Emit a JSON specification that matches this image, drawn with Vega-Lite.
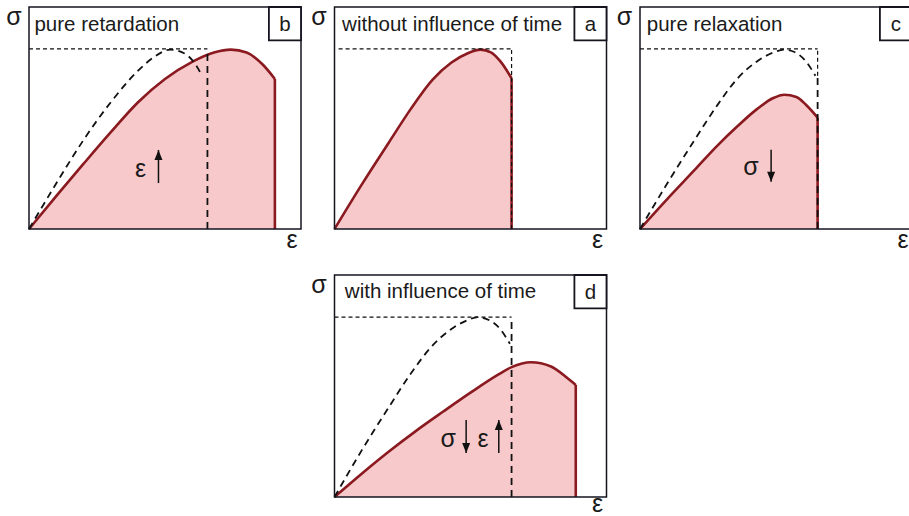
{
  "$schema": "https://vega.github.io/schema/vega-lite/v6.json",
  "padding": {"left": 6, "top": 4, "right": 0, "bottom": 0},
  "datasets": {
    "rows": [
      {"panel": "b", "kind": "curve", "x": 0, "y": 0},
      {"panel": "b", "kind": "curve", "x": 0.1, "y": 0.148},
      {"panel": "b", "kind": "curve", "x": 0.2, "y": 0.293},
      {"panel": "b", "kind": "curve", "x": 0.3, "y": 0.435},
      {"panel": "b", "kind": "curve", "x": 0.4, "y": 0.57},
      {"panel": "b", "kind": "curve", "x": 0.5, "y": 0.676},
      {"panel": "b", "kind": "curve", "x": 0.6, "y": 0.753},
      {"panel": "b", "kind": "curve", "x": 0.68, "y": 0.795},
      {"panel": "b", "kind": "curve", "x": 0.742, "y": 0.808},
      {"panel": "b", "kind": "curve", "x": 0.8, "y": 0.795},
      {"panel": "b", "kind": "curve", "x": 0.86, "y": 0.74},
      {"panel": "b", "kind": "curve", "x": 0.904, "y": 0.676},
      {"panel": "b", "kind": "ref", "x": 0, "y": 0},
      {"panel": "b", "kind": "ref", "x": 0.1, "y": 0.205},
      {"panel": "b", "kind": "ref", "x": 0.2, "y": 0.4},
      {"panel": "b", "kind": "ref", "x": 0.3, "y": 0.57},
      {"panel": "b", "kind": "ref", "x": 0.4, "y": 0.712},
      {"panel": "b", "kind": "ref", "x": 0.46, "y": 0.775},
      {"panel": "b", "kind": "ref", "x": 0.52, "y": 0.808},
      {"panel": "b", "kind": "ref", "x": 0.57, "y": 0.792},
      {"panel": "b", "kind": "ref", "x": 0.61, "y": 0.745},
      {"panel": "b", "kind": "ref", "x": 0.632, "y": 0.7},
      {"panel": "b", "kind": "fine", "x": 0, "x2": 0.656, "y": 0.811, "y2": 0.811},
      {"panel": "b", "kind": "bold", "x": 0.656, "x2": 0.656, "y": 0, "y2": 0.805},
      {"panel": "b", "kind": "drop", "x": 0.904, "x2": 0.904, "y": 0, "y2": 0.676},
      {"panel": "b", "kind": "frame", "x": 0, "x2": 1, "y": 0, "y2": 1},
      {"panel": "b", "kind": "tagbox", "x": 0.882, "x2": 1, "y": 0.85, "y2": 1},
      {"panel": "b", "kind": "title", "x": 0.02, "y": 0.89, "text": "pure retardation"},
      {"panel": "b", "kind": "tag", "x": 0.941, "y": 0.89, "text": "b"},
      {"panel": "b", "kind": "axis", "x": -0.055, "y": 0.919, "text": "σ"},
      {"panel": "b", "kind": "axis", "x": 0.967, "y": -0.086, "text": "ε"},
      {"panel": "b", "kind": "note", "x": 0.41, "y": 0.234, "text": "ε"},
      {"panel": "b", "kind": "arrowup", "x": 0.476, "y": 0.207, "y2": 0.356},

      {"panel": "a", "kind": "curve", "x": 0, "y": 0},
      {"panel": "a", "kind": "curve", "x": 0.1, "y": 0.2},
      {"panel": "a", "kind": "curve", "x": 0.2, "y": 0.39},
      {"panel": "a", "kind": "curve", "x": 0.28, "y": 0.54},
      {"panel": "a", "kind": "curve", "x": 0.36, "y": 0.672},
      {"panel": "a", "kind": "curve", "x": 0.43, "y": 0.75},
      {"panel": "a", "kind": "curve", "x": 0.49, "y": 0.792},
      {"panel": "a", "kind": "curve", "x": 0.537, "y": 0.808},
      {"panel": "a", "kind": "curve", "x": 0.575, "y": 0.796},
      {"panel": "a", "kind": "curve", "x": 0.61, "y": 0.755},
      {"panel": "a", "kind": "curve", "x": 0.651, "y": 0.679},
      {"panel": "a", "kind": "drop", "x": 0.651, "x2": 0.651, "y": 0, "y2": 0.679},
      {"panel": "a", "kind": "fine", "x": 0.015, "x2": 0.651, "y": 0.811, "y2": 0.811},
      {"panel": "a", "kind": "fine", "x": 0.651, "x2": 0.651, "y": 0, "y2": 0.811},
      {"panel": "a", "kind": "frame", "x": 0, "x2": 1, "y": 0, "y2": 1},
      {"panel": "a", "kind": "tagbox", "x": 0.882, "x2": 1, "y": 0.85, "y2": 1},
      {"panel": "a", "kind": "title", "x": 0.028, "y": 0.89, "text": "without influence of time"},
      {"panel": "a", "kind": "tag", "x": 0.941, "y": 0.89, "text": "a"},
      {"panel": "a", "kind": "axis", "x": -0.057, "y": 0.919, "text": "σ"},
      {"panel": "a", "kind": "axis", "x": 0.967, "y": -0.086, "text": "ε"},

      {"panel": "c", "kind": "ref", "x": 0, "y": 0},
      {"panel": "c", "kind": "ref", "x": 0.1, "y": 0.205},
      {"panel": "c", "kind": "ref", "x": 0.2, "y": 0.4},
      {"panel": "c", "kind": "ref", "x": 0.28, "y": 0.55},
      {"panel": "c", "kind": "ref", "x": 0.36, "y": 0.68},
      {"panel": "c", "kind": "ref", "x": 0.43, "y": 0.755},
      {"panel": "c", "kind": "ref", "x": 0.49, "y": 0.795},
      {"panel": "c", "kind": "ref", "x": 0.53, "y": 0.808},
      {"panel": "c", "kind": "ref", "x": 0.57, "y": 0.796},
      {"panel": "c", "kind": "ref", "x": 0.61, "y": 0.755},
      {"panel": "c", "kind": "ref", "x": 0.645, "y": 0.69},
      {"panel": "c", "kind": "curve", "x": 0, "y": 0},
      {"panel": "c", "kind": "curve", "x": 0.1, "y": 0.135},
      {"panel": "c", "kind": "curve", "x": 0.2, "y": 0.265},
      {"panel": "c", "kind": "curve", "x": 0.28, "y": 0.37},
      {"panel": "c", "kind": "curve", "x": 0.36, "y": 0.465},
      {"panel": "c", "kind": "curve", "x": 0.43, "y": 0.54},
      {"panel": "c", "kind": "curve", "x": 0.49, "y": 0.59},
      {"panel": "c", "kind": "curve", "x": 0.53, "y": 0.605},
      {"panel": "c", "kind": "curve", "x": 0.575, "y": 0.595},
      {"panel": "c", "kind": "curve", "x": 0.61, "y": 0.56},
      {"panel": "c", "kind": "curve", "x": 0.653, "y": 0.502},
      {"panel": "c", "kind": "fine", "x": 0, "x2": 0.653, "y": 0.811, "y2": 0.811},
      {"panel": "c", "kind": "fine", "x": 0.653, "x2": 0.653, "y": 0.69, "y2": 0.811},
      {"panel": "c", "kind": "drop", "x": 0.653, "x2": 0.653, "y": 0, "y2": 0.502},
      {"panel": "c", "kind": "bold", "x": 0.653, "x2": 0.653, "y": 0, "y2": 0.69},
      {"panel": "c", "kind": "frame", "x": 0, "x2": 1, "y": 0, "y2": 1},
      {"panel": "c", "kind": "tagbox", "x": 0.882, "x2": 1, "y": 0.85, "y2": 1},
      {"panel": "c", "kind": "title", "x": 0.025, "y": 0.89, "text": "pure relaxation"},
      {"panel": "c", "kind": "tag", "x": 0.941, "y": 0.89, "text": "c"},
      {"panel": "c", "kind": "axis", "x": -0.057, "y": 0.919, "text": "σ"},
      {"panel": "c", "kind": "axis", "x": 0.967, "y": -0.086, "text": "ε"},
      {"panel": "c", "kind": "note", "x": 0.408, "y": 0.244, "text": "σ"},
      {"panel": "c", "kind": "arrowdown", "x": 0.482, "y": 0.357, "y2": 0.213},

      {"panel": "d", "kind": "ref", "x": 0, "y": 0},
      {"panel": "d", "kind": "ref", "x": 0.1, "y": 0.21},
      {"panel": "d", "kind": "ref", "x": 0.2, "y": 0.405},
      {"panel": "d", "kind": "ref", "x": 0.28, "y": 0.555},
      {"panel": "d", "kind": "ref", "x": 0.36, "y": 0.682},
      {"panel": "d", "kind": "ref", "x": 0.43, "y": 0.757},
      {"panel": "d", "kind": "ref", "x": 0.49, "y": 0.797},
      {"panel": "d", "kind": "ref", "x": 0.526, "y": 0.81},
      {"panel": "d", "kind": "ref", "x": 0.57, "y": 0.796},
      {"panel": "d", "kind": "ref", "x": 0.61, "y": 0.755},
      {"panel": "d", "kind": "ref", "x": 0.645, "y": 0.69},
      {"panel": "d", "kind": "curve", "x": 0, "y": 0},
      {"panel": "d", "kind": "curve", "x": 0.1, "y": 0.105},
      {"panel": "d", "kind": "curve", "x": 0.2, "y": 0.205},
      {"panel": "d", "kind": "curve", "x": 0.3, "y": 0.298},
      {"panel": "d", "kind": "curve", "x": 0.4, "y": 0.385},
      {"panel": "d", "kind": "curve", "x": 0.5, "y": 0.47},
      {"panel": "d", "kind": "curve", "x": 0.6, "y": 0.55},
      {"panel": "d", "kind": "curve", "x": 0.651, "y": 0.585},
      {"panel": "d", "kind": "curve", "x": 0.722, "y": 0.607},
      {"panel": "d", "kind": "curve", "x": 0.796, "y": 0.588},
      {"panel": "d", "kind": "curve", "x": 0.857, "y": 0.535},
      {"panel": "d", "kind": "curve", "x": 0.887, "y": 0.505},
      {"panel": "d", "kind": "fine", "x": 0, "x2": 0.651, "y": 0.81, "y2": 0.81},
      {"panel": "d", "kind": "bold", "x": 0.651, "x2": 0.651, "y": 0, "y2": 0.8},
      {"panel": "d", "kind": "drop", "x": 0.887, "x2": 0.887, "y": 0, "y2": 0.505},
      {"panel": "d", "kind": "frame", "x": 0, "x2": 1, "y": 0, "y2": 1},
      {"panel": "d", "kind": "tagbox", "x": 0.882, "x2": 1, "y": 0.85, "y2": 1},
      {"panel": "d", "kind": "title", "x": 0.038, "y": 0.895, "text": "with influence of time"},
      {"panel": "d", "kind": "tag", "x": 0.941, "y": 0.89, "text": "d"},
      {"panel": "d", "kind": "axis", "x": -0.057, "y": 0.919, "text": "σ"},
      {"panel": "d", "kind": "axis", "x": 0.967, "y": -0.068, "text": "ε"},
      {"panel": "d", "kind": "note", "x": 0.418, "y": 0.225, "text": "σ"},
      {"panel": "d", "kind": "note", "x": 0.546, "y": 0.225, "text": "ε"},
      {"panel": "d", "kind": "arrowdown", "x": 0.484, "y": 0.347, "y2": 0.198},
      {"panel": "d", "kind": "arrowup", "x": 0.604, "y": 0.198, "y2": 0.347}
    ]
  },
  "columns": 3,
  "bounds": "flush",
  "spacing": {"row": 46, "column": 33.5},
  "concat": [
    {
      "width": 272, "height": 222,
      "data": {"name": "rows"},
      "transform": [{"filter": "datum.panel === 'b'"}],
      "encoding": {
        "x": {"field": "x", "type": "quantitative", "scale": {"domain": [0, 1]}, "axis": null},
        "y": {"field": "y", "type": "quantitative", "scale": {"domain": [0, 1]}, "axis": null}
      },
      "layer": [
        {"transform": [{"filter": "datum.kind === 'curve'"}], "mark": {"type": "area", "interpolate": "monotone", "color": "#f7c9ca"}},
        {"transform": [{"filter": "datum.kind === 'curve'"}], "mark": {"type": "line", "interpolate": "monotone", "color": "#8a1a20", "strokeWidth": 2.6}},
        {"transform": [{"filter": "datum.kind === 'drop'"}], "mark": {"type": "rule", "color": "#8a1a20", "strokeWidth": 2.6}, "encoding": {"y2": {"field": "y2"}}},
        {"transform": [{"filter": "datum.kind === 'fine'"}], "mark": {"type": "rule", "color": "#111111", "strokeWidth": 1.2, "strokeDash": [4, 3]}, "encoding": {"x2": {"field": "x2"}, "y2": {"field": "y2"}}},
        {"transform": [{"filter": "datum.kind === 'ref'"}], "mark": {"type": "line", "interpolate": "monotone", "color": "#111111", "strokeWidth": 1.8, "strokeDash": [7, 5]}},
        {"transform": [{"filter": "datum.kind === 'bold'"}], "mark": {"type": "rule", "color": "#111111", "strokeWidth": 1.8, "strokeDash": [7, 5]}, "encoding": {"y2": {"field": "y2"}}},
        {"transform": [{"filter": "datum.kind === 'frame'"}], "mark": {"type": "rect", "fill": "transparent", "stroke": "#15151f", "strokeWidth": 1.5}, "encoding": {"x2": {"field": "x2"}, "y2": {"field": "y2"}}},
        {"transform": [{"filter": "datum.kind === 'tagbox'"}], "mark": {"type": "rect", "fill": "white", "stroke": "#15151f", "strokeWidth": 1.8}, "encoding": {"x2": {"field": "x2"}, "y2": {"field": "y2"}}},
        {"transform": [{"filter": "datum.kind === 'title'"}], "mark": {"type": "text", "align": "left", "baseline": "alphabetic", "font": "Liberation Sans", "fontSize": 20.5, "color": "#1a1a1a"}, "encoding": {"text": {"field": "text"}}},
        {"transform": [{"filter": "datum.kind === 'tag'"}], "mark": {"type": "text", "align": "center", "baseline": "alphabetic", "font": "Liberation Sans", "fontSize": 20.5, "color": "#1a1a1a"}, "encoding": {"text": {"field": "text"}}},
        {"transform": [{"filter": "datum.kind === 'axis' || datum.kind === 'note'"}], "mark": {"type": "text", "align": "center", "baseline": "alphabetic", "font": "Liberation Sans", "fontSize": 25, "color": "#1a1a1a"}, "encoding": {"text": {"field": "text"}}},
        {"transform": [{"filter": "datum.kind === 'arrowup' || datum.kind === 'arrowdown'"}], "mark": {"type": "rule", "color": "#111111", "strokeWidth": 1.5}, "encoding": {"y2": {"field": "y2"}}},
        {"transform": [{"filter": "datum.kind === 'arrowup'"}], "mark": {"type": "point", "shape": "M0,0L0.8,2L-0.8,2Z", "size": 100, "filled": true, "color": "#111111", "opacity": 1, "strokeWidth": 0}, "encoding": {"y": {"field": "y2", "type": "quantitative", "scale": {"domain": [0, 1]}, "axis": null}}},
        {"transform": [{"filter": "datum.kind === 'arrowdown'"}], "mark": {"type": "point", "shape": "M0,0L0.8,-2L-0.8,-2Z", "size": 100, "filled": true, "color": "#111111", "opacity": 1, "strokeWidth": 0}, "encoding": {"y": {"field": "y2", "type": "quantitative", "scale": {"domain": [0, 1]}, "axis": null}}}
      ]
    },
    {
      "width": 272, "height": 222,
      "data": {"name": "rows"},
      "transform": [{"filter": "datum.panel === 'a'"}],
      "encoding": {
        "x": {"field": "x", "type": "quantitative", "scale": {"domain": [0, 1]}, "axis": null},
        "y": {"field": "y", "type": "quantitative", "scale": {"domain": [0, 1]}, "axis": null}
      },
      "layer": [
        {"transform": [{"filter": "datum.kind === 'curve'"}], "mark": {"type": "area", "interpolate": "monotone", "color": "#f7c9ca"}},
        {"transform": [{"filter": "datum.kind === 'curve'"}], "mark": {"type": "line", "interpolate": "monotone", "color": "#8a1a20", "strokeWidth": 2.6}},
        {"transform": [{"filter": "datum.kind === 'drop'"}], "mark": {"type": "rule", "color": "#8a1a20", "strokeWidth": 2.6}, "encoding": {"y2": {"field": "y2"}}},
        {"transform": [{"filter": "datum.kind === 'fine'"}], "mark": {"type": "rule", "color": "#111111", "strokeWidth": 1.2, "strokeDash": [4, 3]}, "encoding": {"x2": {"field": "x2"}, "y2": {"field": "y2"}}},
        {"transform": [{"filter": "datum.kind === 'frame'"}], "mark": {"type": "rect", "fill": "transparent", "stroke": "#15151f", "strokeWidth": 1.5}, "encoding": {"x2": {"field": "x2"}, "y2": {"field": "y2"}}},
        {"transform": [{"filter": "datum.kind === 'tagbox'"}], "mark": {"type": "rect", "fill": "white", "stroke": "#15151f", "strokeWidth": 1.8}, "encoding": {"x2": {"field": "x2"}, "y2": {"field": "y2"}}},
        {"transform": [{"filter": "datum.kind === 'title'"}], "mark": {"type": "text", "align": "left", "baseline": "alphabetic", "font": "Liberation Sans", "fontSize": 20.5, "color": "#1a1a1a"}, "encoding": {"text": {"field": "text"}}},
        {"transform": [{"filter": "datum.kind === 'tag'"}], "mark": {"type": "text", "align": "center", "baseline": "alphabetic", "font": "Liberation Sans", "fontSize": 20.5, "color": "#1a1a1a"}, "encoding": {"text": {"field": "text"}}},
        {"transform": [{"filter": "datum.kind === 'axis' || datum.kind === 'note'"}], "mark": {"type": "text", "align": "center", "baseline": "alphabetic", "font": "Liberation Sans", "fontSize": 25, "color": "#1a1a1a"}, "encoding": {"text": {"field": "text"}}}
      ]
    },
    {
      "width": 272, "height": 222,
      "data": {"name": "rows"},
      "transform": [{"filter": "datum.panel === 'c'"}],
      "encoding": {
        "x": {"field": "x", "type": "quantitative", "scale": {"domain": [0, 1]}, "axis": null},
        "y": {"field": "y", "type": "quantitative", "scale": {"domain": [0, 1]}, "axis": null}
      },
      "layer": [
        {"transform": [{"filter": "datum.kind === 'curve'"}], "mark": {"type": "area", "interpolate": "monotone", "color": "#f7c9ca"}},
        {"transform": [{"filter": "datum.kind === 'curve'"}], "mark": {"type": "line", "interpolate": "monotone", "color": "#8a1a20", "strokeWidth": 2.6}},
        {"transform": [{"filter": "datum.kind === 'drop'"}], "mark": {"type": "rule", "color": "#8a1a20", "strokeWidth": 2.6}, "encoding": {"y2": {"field": "y2"}}},
        {"transform": [{"filter": "datum.kind === 'fine'"}], "mark": {"type": "rule", "color": "#111111", "strokeWidth": 1.2, "strokeDash": [4, 3]}, "encoding": {"x2": {"field": "x2"}, "y2": {"field": "y2"}}},
        {"transform": [{"filter": "datum.kind === 'ref'"}], "mark": {"type": "line", "interpolate": "monotone", "color": "#111111", "strokeWidth": 1.8, "strokeDash": [7, 5]}},
        {"transform": [{"filter": "datum.kind === 'bold'"}], "mark": {"type": "rule", "color": "#111111", "strokeWidth": 1.8, "strokeDash": [7, 5]}, "encoding": {"y2": {"field": "y2"}}},
        {"transform": [{"filter": "datum.kind === 'frame'"}], "mark": {"type": "rect", "fill": "transparent", "stroke": "#15151f", "strokeWidth": 1.5}, "encoding": {"x2": {"field": "x2"}, "y2": {"field": "y2"}}},
        {"transform": [{"filter": "datum.kind === 'tagbox'"}], "mark": {"type": "rect", "fill": "white", "stroke": "#15151f", "strokeWidth": 1.8}, "encoding": {"x2": {"field": "x2"}, "y2": {"field": "y2"}}},
        {"transform": [{"filter": "datum.kind === 'title'"}], "mark": {"type": "text", "align": "left", "baseline": "alphabetic", "font": "Liberation Sans", "fontSize": 20.5, "color": "#1a1a1a"}, "encoding": {"text": {"field": "text"}}},
        {"transform": [{"filter": "datum.kind === 'tag'"}], "mark": {"type": "text", "align": "center", "baseline": "alphabetic", "font": "Liberation Sans", "fontSize": 20.5, "color": "#1a1a1a"}, "encoding": {"text": {"field": "text"}}},
        {"transform": [{"filter": "datum.kind === 'axis' || datum.kind === 'note'"}], "mark": {"type": "text", "align": "center", "baseline": "alphabetic", "font": "Liberation Sans", "fontSize": 25, "color": "#1a1a1a"}, "encoding": {"text": {"field": "text"}}},
        {"transform": [{"filter": "datum.kind === 'arrowup' || datum.kind === 'arrowdown'"}], "mark": {"type": "rule", "color": "#111111", "strokeWidth": 1.5}, "encoding": {"y2": {"field": "y2"}}},
        {"transform": [{"filter": "datum.kind === 'arrowdown'"}], "mark": {"type": "point", "shape": "M0,0L0.8,-2L-0.8,-2Z", "size": 100, "filled": true, "color": "#111111", "opacity": 1, "strokeWidth": 0}, "encoding": {"y": {"field": "y2", "type": "quantitative", "scale": {"domain": [0, 1]}, "axis": null}}}
      ]
    },
    {
      "width": 272, "height": 222,
      "data": {"values": [{"x": 0, "y": 0}]},
      "mark": {"type": "point", "opacity": 0},
      "encoding": {
        "x": {"field": "x", "type": "quantitative", "scale": {"domain": [0, 1]}, "axis": null},
        "y": {"field": "y", "type": "quantitative", "scale": {"domain": [0, 1]}, "axis": null}
      }
    },
    {
      "width": 272, "height": 222,
      "data": {"name": "rows"},
      "transform": [{"filter": "datum.panel === 'd'"}],
      "encoding": {
        "x": {"field": "x", "type": "quantitative", "scale": {"domain": [0, 1]}, "axis": null},
        "y": {"field": "y", "type": "quantitative", "scale": {"domain": [0, 1]}, "axis": null}
      },
      "layer": [
        {"transform": [{"filter": "datum.kind === 'curve'"}], "mark": {"type": "area", "interpolate": "monotone", "color": "#f7c9ca"}},
        {"transform": [{"filter": "datum.kind === 'curve'"}], "mark": {"type": "line", "interpolate": "monotone", "color": "#8a1a20", "strokeWidth": 2.6}},
        {"transform": [{"filter": "datum.kind === 'drop'"}], "mark": {"type": "rule", "color": "#8a1a20", "strokeWidth": 2.6}, "encoding": {"y2": {"field": "y2"}}},
        {"transform": [{"filter": "datum.kind === 'fine'"}], "mark": {"type": "rule", "color": "#111111", "strokeWidth": 1.2, "strokeDash": [4, 3]}, "encoding": {"x2": {"field": "x2"}, "y2": {"field": "y2"}}},
        {"transform": [{"filter": "datum.kind === 'ref'"}], "mark": {"type": "line", "interpolate": "monotone", "color": "#111111", "strokeWidth": 1.8, "strokeDash": [7, 5]}},
        {"transform": [{"filter": "datum.kind === 'bold'"}], "mark": {"type": "rule", "color": "#111111", "strokeWidth": 1.8, "strokeDash": [7, 5]}, "encoding": {"y2": {"field": "y2"}}},
        {"transform": [{"filter": "datum.kind === 'frame'"}], "mark": {"type": "rect", "fill": "transparent", "stroke": "#15151f", "strokeWidth": 1.5}, "encoding": {"x2": {"field": "x2"}, "y2": {"field": "y2"}}},
        {"transform": [{"filter": "datum.kind === 'tagbox'"}], "mark": {"type": "rect", "fill": "white", "stroke": "#15151f", "strokeWidth": 1.8}, "encoding": {"x2": {"field": "x2"}, "y2": {"field": "y2"}}},
        {"transform": [{"filter": "datum.kind === 'title'"}], "mark": {"type": "text", "align": "left", "baseline": "alphabetic", "font": "Liberation Sans", "fontSize": 20.5, "color": "#1a1a1a"}, "encoding": {"text": {"field": "text"}}},
        {"transform": [{"filter": "datum.kind === 'tag'"}], "mark": {"type": "text", "align": "center", "baseline": "alphabetic", "font": "Liberation Sans", "fontSize": 20.5, "color": "#1a1a1a"}, "encoding": {"text": {"field": "text"}}},
        {"transform": [{"filter": "datum.kind === 'axis' || datum.kind === 'note'"}], "mark": {"type": "text", "align": "center", "baseline": "alphabetic", "font": "Liberation Sans", "fontSize": 25, "color": "#1a1a1a"}, "encoding": {"text": {"field": "text"}}},
        {"transform": [{"filter": "datum.kind === 'arrowup' || datum.kind === 'arrowdown'"}], "mark": {"type": "rule", "color": "#111111", "strokeWidth": 1.5}, "encoding": {"y2": {"field": "y2"}}},
        {"transform": [{"filter": "datum.kind === 'arrowup'"}], "mark": {"type": "point", "shape": "M0,0L0.8,2L-0.8,2Z", "size": 100, "filled": true, "color": "#111111", "opacity": 1, "strokeWidth": 0}, "encoding": {"y": {"field": "y2", "type": "quantitative", "scale": {"domain": [0, 1]}, "axis": null}}},
        {"transform": [{"filter": "datum.kind === 'arrowdown'"}], "mark": {"type": "point", "shape": "M0,0L0.8,-2L-0.8,-2Z", "size": 100, "filled": true, "color": "#111111", "opacity": 1, "strokeWidth": 0}, "encoding": {"y": {"field": "y2", "type": "quantitative", "scale": {"domain": [0, 1]}, "axis": null}}}
      ]
    }
  ],
  "config": {
    "view": {"stroke": null},
    "font": "Liberation Sans"
  }
}
